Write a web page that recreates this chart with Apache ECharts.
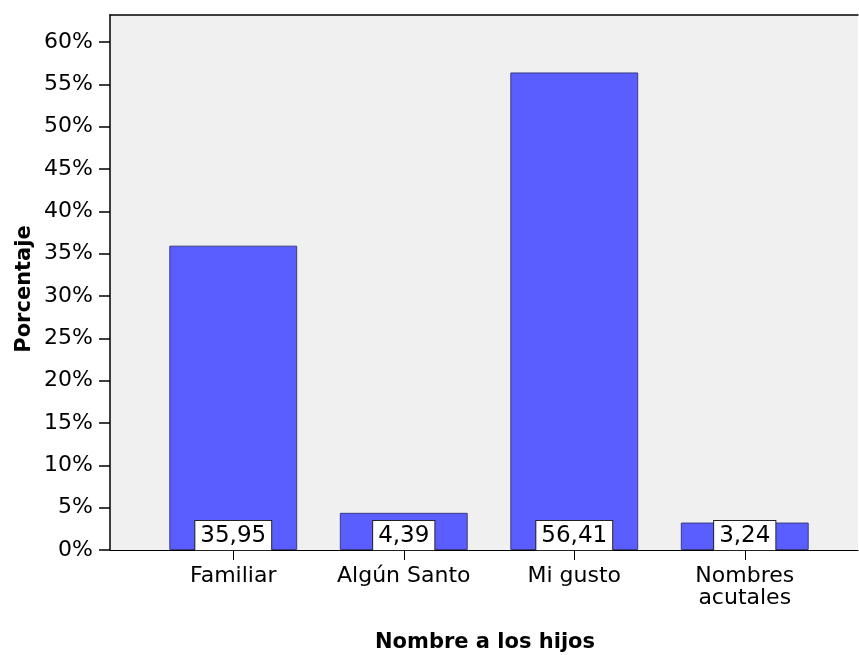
<!DOCTYPE html>
<html>
<head>
<meta charset="utf-8">
<script src="https://cdn.jsdelivr.net/npm/echarts@6/dist/echarts.min.js"></script>
<style>
  html, body { margin: 0; padding: 0; background: #fff; }
  #chart { width: 859px; height: 655px; }
</style>
</head>
<body>
<div id="chart"></div>
<script>
// datos del grafico
var categorias = ['Familiar', 'Algún Santo', 'Mi gusto', 'Nombres\nacutales'];
var porcentajes = [35.95, 4.39, 56.41, 3.24];
var ticksY = [0, 5, 10, 15, 20, 25, 30, 35, 40, 45, 50, 55, 60];
var maxY = 63.2;

(function () {
  var fuente = 'DejaVu Sans';
  var option = {
    animation: false,
    grid: [
      // marco gris con eje Y
      { left: 110, right: 1, top: 15, bottom: 105, show: true,
        backgroundColor: '#f0f0f0', borderWidth: 0 },
      // barras
      { left: 148, right: 29, top: 15, bottom: 105 }
    ],
    xAxis: [
      { gridIndex: 0, type: 'value', min: 0, max: 1, position: 'bottom',
        axisLine: { show: true, lineStyle: { color: '#000', width: 1 } },
        axisTick: { show: false }, axisLabel: { show: false }, splitLine: { show: false } },
      { gridIndex: 0, type: 'value', min: 0, max: 1, position: 'top',
        axisLine: { show: true, lineStyle: { color: '#000', width: 1.5 } },
        axisTick: { show: false }, axisLabel: { show: false }, splitLine: { show: false } },
      { gridIndex: 1, type: 'category', data: categorias,
        axisLine: { show: false },
        axisTick: { show: true, alignWithLabel: true, length: 10, lineStyle: { color: '#000' } },
        axisLabel: { interval: 0, color: '#000', fontFamily: fuente, fontSize: 22, lineHeight: 22, margin: 15 } }
    ],
    yAxis: [
      { gridIndex: 0, type: 'value', min: 0, max: maxY,
        axisLine: { show: true, lineStyle: { color: '#000', width: 1.5 } },
        axisTick: { show: true, length: 11, lineStyle: { color: '#000', width: 1.5 }, customValues: ticksY },
        axisLabel: { color: '#000', fontFamily: fuente, fontSize: 22, margin: 17,
          customValues: ticksY, formatter: function (v) { return v + '%'; } },
        splitLine: { show: false } },
      { gridIndex: 1, type: 'value', min: 0, max: maxY, show: false }
    ],
    series: [
      {
        type: 'bar',
        xAxisIndex: 2,
        yAxisIndex: 1,
        barWidth: '75%',
        data: porcentajes,
        itemStyle: { color: '#5a5eff', borderColor: '#3a3a80', borderWidth: 1 },
        label: {
          show: true,
          position: 'insideBottom',
          distance: 0,
          color: '#000',
          fontFamily: fuente,
          fontSize: 23,
          backgroundColor: '#fff',
          borderColor: '#222',
          borderWidth: 1,
          padding: [4, 5, 2, 5],
          formatter: function (p) { return p.value.toFixed(2).replace('.', ','); }
        }
      }
    ],
    graphic: [
      { type: 'text', x: 485, y: 643,
        style: { text: 'Nombre a los hijos', fontFamily: fuente, fontWeight: 'bold', fontSize: 21,
          fill: '#000', align: 'center', verticalAlign: 'middle' } },
      { type: 'text', x: 25, y: 289, rotation: Math.PI / 2,
        style: { text: 'Porcentaje', fontFamily: fuente, fontWeight: 'bold', fontSize: 21,
          fill: '#000', align: 'center', verticalAlign: 'middle' } }
    ]
  };
  var myChart = echarts.init(document.getElementById('chart'));
  myChart.setOption(option);
})();
</script>
</body>
</html>
